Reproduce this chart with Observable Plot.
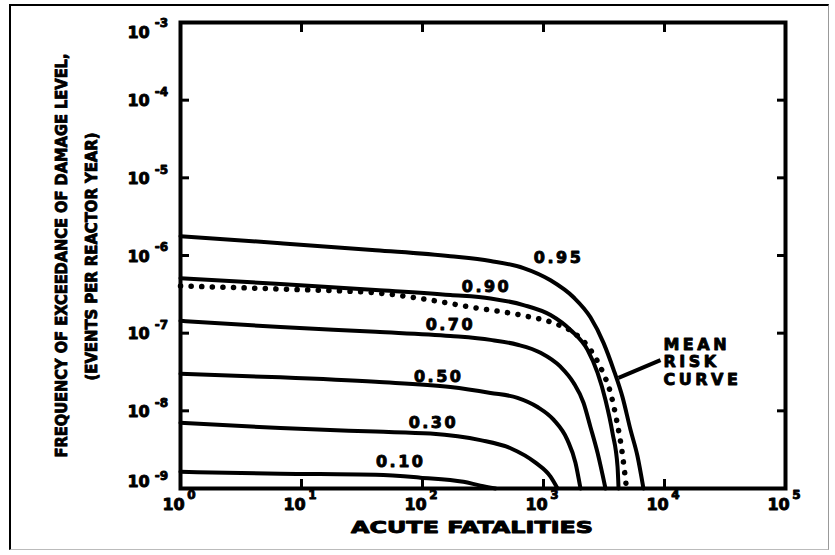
<!DOCTYPE html>
<html><head><meta charset="utf-8">
<script src="https://cdn.jsdelivr.net/npm/d3@7"></script>
<script src="https://cdn.jsdelivr.net/npm/@observablehq/plot@0.6"></script>
<style>
html,body{margin:0;padding:0;background:#fff;}
#wrap{position:relative;width:835px;height:555px;overflow:hidden;}
#wrap svg{position:absolute;left:0;top:0;}
#border{position:absolute;left:9px;top:4px;width:820px;height:546px;border-left:2px solid #000;border-top:2px solid #000;border-right:1px solid #999;border-bottom:1px solid #bbb;box-sizing:border-box;pointer-events:none;}
</style></head><body>
<div id="wrap"><div id="border"></div></div>
<script>
// ---- tick values & labels ----
const xTicks = [1, 10, 100, 1000, 10000, 100000];
const xExp = ["0", "1", "2", "3", "4", "5"];
const yTicks = [1e-3, 1e-4, 1e-5, 1e-6, 1e-7, 1e-8, 1e-9];
const yExp = ["-3", "-4", "-5", "-6", "-7", "-8", "-9"];

// ---- curves (acute fatalities, frequency) ----
const x95 = [1, 6.7, 41, 170, 365, 684, 1143, 1770, 2443, 3133, 3793, 4498, 5236, 5984, 6700];
const y95 = [1.77e-6, 1.44e-6, 1.17e-6, 9.8e-7, 8.5e-7, 6.9e-7, 4.8e-7, 2.9e-7, 1.6e-7, 7.5e-8, 3.4e-8, 1.5e-8, 5.7e-9, 2.6e-9, 1.0e-9];
const x90 = [1, 6.7, 41, 170, 365, 684, 1143, 1671, 2311, 2794, 3253, 3718, 4093, 4171];
const y90 = [5.1e-7, 4.3e-7, 3.6e-7, 3.1e-7, 2.8e-7, 2.3e-7, 1.71e-7, 1.10e-7, 6.1e-8, 3.1e-8, 1.38e-8, 5.2e-9, 1.9e-9, 1.0e-9];
const x70 = [1, 6.7, 41, 170, 365, 610, 945, 1381, 1770, 2141, 2443, 2794, 3253];
const y70 = [1.44e-7, 1.20e-7, 1.04e-7, 9.2e-8, 8.2e-8, 7.1e-8, 5.6e-8, 3.7e-8, 2.3e-8, 1.27e-8, 6.2e-9, 2.9e-9, 1.0e-9];
const x50 = [1, 6.7, 41, 170, 365, 610, 892, 1210, 1578, 1837, 2022];
const y50 = [3.0e-8, 2.7e-8, 2.36e-8, 2.03e-8, 1.70e-8, 1.47e-8, 1.12e-8, 7.7e-9, 4.2e-9, 2.15e-9, 1.0e-9];
const x30 = [1, 6.7, 41, 116, 301, 534, 859, 1143, 1306];
const y30 = [7.0e-9, 6.0e-9, 5.4e-9, 5.1e-9, 4.2e-9, 3.3e-9, 2.15e-9, 1.42e-9, 1.0e-9];
const x10 = [1, 6.7, 41, 96, 218, 301, 401];
const y10 = [1.64e-9, 1.55e-9, 1.50e-9, 1.38e-9, 1.22e-9, 1.09e-9, 1.0e-9];
const xMean = [1, 6.7, 41, 96, 249, 645, 1210, 1737, 2443, 3073, 3581, 4013, 4498, 4853];
const yMean = [4.05e-7, 3.7e-7, 3.3e-7, 2.8e-7, 2.17e-7, 1.71e-7, 1.35e-7, 1.04e-7, 6.1e-8, 3.2e-8, 1.70e-8, 7.7e-9, 2.7e-9, 1.0e-9];

// ---- curve labels ----
const labelText = ["0.95", "0.90", "0.70", "0.50", "0.30", "0.10"];
const labelX = [1331, 338, 170, 136, 123, 66];
const labelY = [9.3e-7, 3.9e-7, 1.27e-7, 2.7e-8, 7.0e-9, 2.2e-9];

// ---- mean risk curve annotation ----
const meanLabel = "MEAN\nRISK\nCURVE";
const meanLabelX = [9800];
const meanLabelY = [4.3e-8];
const pointerX = [9270, 4170];
const pointerY = [4.5e-8, 2.65e-8];

const yLabel1 = "FREQUENCY OF EXCEEDANCE OF DAMAGE LEVEL,";
const yLabel2 = "(EVENTS PER REACTOR YEAR)";
const xLabel = "ACUTE FATALITIES";

// build tables
const series = (name, xs, ys) => xs.map((x, i) => ({name, x, y: ys[i]}));
const solid = [
  ...series("0.95", x95, y95), ...series("0.90", x90, y90), ...series("0.70", x70, y70),
  ...series("0.50", x50, y50), ...series("0.30", x30, y30), ...series("0.10", x10, y10)
];
const meanRows = series("mean", xMean, yMean);
const labels = labelText.map((t, i) => ({t, x: labelX[i], y: labelY[i]}));
const xt = xTicks.map((v, i) => ({v, e: xExp[i]}));
const yt = yTicks.map((v, i) => ({v, e: yExp[i]}));
const ytTop = yt.slice(0, 1), ytMid = yt.slice(1, -1), ytBot = yt.slice(-1);
const pointer = [{x1: pointerX[0], y1: pointerY[0], x2: pointerX[1], y2: pointerY[1]}];

const F = "DejaVu Sans, sans-serif";
const bold = (data, opts) => Plot.text(data, {fontFamily: F, fontWeight: "bold", fill: "#000", stroke: "#000", strokeWidth: 0.9, textAnchor: "middle", ...opts});

const chart = Plot.plot({
  width: 835, height: 555,
  marginLeft: 180, marginRight: 50, marginTop: 22, marginBottom: 67,
  x: {type: "log", domain: [1, 1e5], axis: null},
  y: {type: "log", domain: [1e-9, 1e-3], axis: null},
  style: {fontFamily: F, background: "transparent", color: "#000"},
  marks: [
    Plot.line(solid, {x: "x", y: "y", z: "name", stroke: "#000", strokeWidth: 4, curve: "monotone-x"}),
    Plot.line(meanRows, {x: "x", y: "y", stroke: "#000", strokeWidth: 5.5, strokeDasharray: "0.1,10.5", strokeLinecap: "round", curve: "monotone-x"}),
    Plot.link(pointer, {x1: "x1", y1: "y1", x2: "x2", y2: "y2", stroke: "#000", strokeWidth: 4}),
    Plot.frame({stroke: "#000", strokeWidth: 4}),
    Plot.axisX({ticks: xTicks, anchor: "bottom", tickSize: -9, strokeWidth: 3, fill: "none", label: null}),
    Plot.axisX({ticks: xTicks, anchor: "top", tickSize: -9, strokeWidth: 3, fill: "none", label: null}),
    Plot.axisY({ticks: yTicks, anchor: "left", tickSize: -9, strokeWidth: 3, fill: "none", label: null}),
    Plot.axisY({ticks: yTicks, anchor: "right", tickSize: -9, strokeWidth: 3, fill: "none", label: null}),
    // x tick labels
    bold(xt, {x: "v", frameAnchor: "bottom", text: () => "10", dx: -7, dy: 21, fontSize: 16}),
    bold(xt, {x: "v", frameAnchor: "bottom", text: "e", dx: 11, dy: 10, fontSize: 12}),
    // y tick labels
    bold(ytMid, {y: "v", frameAnchor: "left", text: () => "10", dx: -42, dy: 1, fontSize: 16}),
    bold(ytMid, {y: "v", frameAnchor: "left", text: "e", dx: -19, dy: -8, fontSize: 12}),
    bold(ytTop, {y: "v", frameAnchor: "left", text: () => "10", dx: -42, dy: 10, fontSize: 16}),
    bold(ytTop, {y: "v", frameAnchor: "left", text: "e", dx: -19, dy: 1, fontSize: 12}),
    bold(ytBot, {y: "v", frameAnchor: "left", text: () => "10", dx: -42, dy: -7, fontSize: 16}),
    bold(ytBot, {y: "v", frameAnchor: "left", text: "e", dx: -19, dy: -12, fontSize: 12}),
    // curve labels
    bold(labels, {x: "x", y: "y", text: "t", fontSize: 16}),
    // mean risk curve label
    bold([meanLabel], {x: meanLabelX, y: meanLabelY, text: d => d, textAnchor: "start", fontSize: 16, lineHeight: 1.1}),
    // axis titles
    bold([yLabel1], {frameAnchor: "left", text: d => d, rotate: -90, dx: -119, fontSize: 16}),
    bold([yLabel2], {frameAnchor: "left", text: d => d, rotate: -90, dx: -89, dy: 1, fontSize: 16}),
    bold([xLabel], {frameAnchor: "bottom", text: d => d, dx: -11, dy: 44, fontSize: 16})
  ]
});
document.getElementById("wrap").appendChild(chart);

// condense / space the heavy lettering to the widths seen on the original
const fit = {};
fit[yLabel1] = 404; fit[yLabel2] = 248; fit[xLabel] = 242;
chart.querySelectorAll("text").forEach(t => {
  const s = t.textContent;
  const spans = t.querySelectorAll("tspan");
  const target = spans.length === 1 ? spans[0] : t;
  if (fit[s]) {
    target.setAttribute("textLength", fit[s]);
    target.setAttribute("lengthAdjust", "spacingAndGlyphs");
  }
  if (labelText.includes(s)) target.setAttribute("letter-spacing", "2.5");
  if (s.startsWith("MEAN")) spans.forEach(sp => sp.setAttribute("letter-spacing", "3.5"));
});
</script>
</body></html>
